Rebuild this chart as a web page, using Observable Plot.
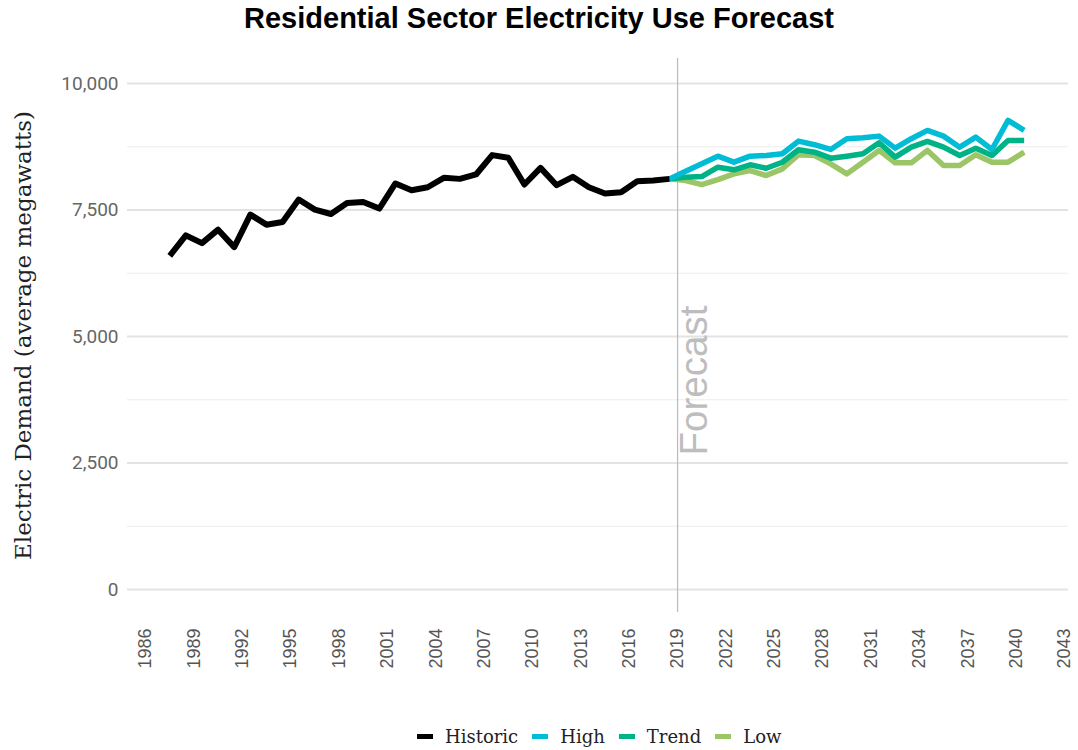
<!DOCTYPE html>
<html><head><meta charset="utf-8">
<script src="https://cdn.jsdelivr.net/npm/d3@7"></script>
<script src="https://cdn.jsdelivr.net/npm/@observablehq/plot@0.6"></script>
<style>
body{margin:0;background:#fff;width:1078px;height:750px;overflow:hidden;}
#title{font-family:"Liberation Sans",Arial,sans-serif;font-weight:bold;font-size:29px;text-align:center;height:40px;line-height:36px;color:#000;}
#chart svg{display:block;}
#legend{display:flex;justify-content:flex-start;align-items:center;font-family:"DejaVu Serif",serif;font-size:18px;color:#222;margin-top:25px;height:22px;padding-left:410px;}
#legend .item{display:flex;align-items:center;margin:0 7px;}
#legend .sw{width:16px;height:5px;margin-right:12px;}
</style></head>
<body>
<div id="title">Residential Sector Electricity Use Forecast</div>
<div id="chart"></div>
<div id="legend"></div>
<script>
// Data (annual values plotted at mid-year)
const histYears = [1987,1988,1989,1990,1991,1992,1993,1994,1995,1996,1997,1998,1999,2000,2001,2002,2003,2004,2005,2006,2007,2008,2009,2010,2011,2012,2013,2014,2015,2016,2017,2018];
const historic  = [6595,6998,6845,7111,6766,7409,7210,7262,7706,7508,7421,7639,7659,7528,8024,7891,7950,8135,8115,8202,8585,8532,8004,8333,7990,8155,7950,7825,7851,8069,8083,8115];
const fcYears = [2018,2019,2020,2021,2022,2023,2024,2025,2026,2027,2028,2029,2030,2031,2032,2033,2034,2035,2036,2037,2038,2039,2040];
const high  = [8115,8266,8413,8564,8445,8564,8577,8611,8861,8790,8696,8909,8929,8960,8722,8909,9073,8960,8742,8940,8696,9272,9073];
const trend = [8115,8147,8161,8345,8294,8393,8325,8444,8690,8643,8524,8564,8611,8829,8544,8742,8855,8742,8577,8722,8577,8875,8875];
const low   = [8115,8081,8002,8101,8214,8280,8180,8313,8591,8577,8413,8214,8445,8677,8432,8432,8677,8379,8379,8591,8445,8445,8643];
const xTicks = [1986,1989,1992,1995,1998,2001,2004,2007,2010,2013,2016,2019,2022,2025,2028,2031,2034,2037,2040,2043];
const yTicks = [0,2500,5000,7500,10000];
const yMinor = [1250,3750,6250,8750];
const forecastYear = [2019];
const forecastLabel = [{year:2019, value:2650, text:"Forecast"}];
const yTitle = ["Electric Demand (average megawatts)"];
const seriesNames = ["Historic","High","Trend","Low"];
const seriesColors = ["#000000","#00bcd4","#00b386","#9bc566"];

const color = Object.fromEntries(seriesNames.map((n,i)=>[n,seriesColors[i]]));
const mid = y => y + 0.5;
const hist = histYears.map((y,i)=>({x:mid(y), v:historic[i]}));
const mk = arr => fcYears.map((y,i)=>({x:mid(y), v:arr[i]}));

const chart = Plot.plot({
  width:1078, height:660,
  marginTop:18, marginBottom:88, marginLeft:127, marginRight:10,
  style:{background:"white", fontFamily:"Roboto"},
  x:{domain:[1984.88,2043.25]},
  y:{domain:[-455,10494]},
  marks:[
    Plot.ruleY(yMinor,{stroke:"#ececec",strokeWidth:1.2}),
    Plot.ruleY(yTicks,{stroke:"#e3e3e3",strokeWidth:1.8}),
    Plot.ruleX(forecastYear,{stroke:"#bbbbbb",strokeWidth:1.2}),
    Plot.axisY(yTicks,{tickSize:0,tickPadding:9,tickFormat:d3.format(","),label:null,fill:"#666",fontSize:19,fontFamily:"Roboto"}),
    Plot.axisX(xTicks,{tickSize:0,tickPadding:16,tickRotate:-90,tickFormat:d=>String(d),label:null,fill:"#555",fontSize:18,fontFamily:"Liberation Sans"}),
    Plot.text(forecastLabel,{x:"year",y:"value",text:"text",rotate:-90,textAnchor:"start",lineAnchor:"middle",dx:17,fill:"#bdbdbd",fontSize:38.5,fontFamily:"Liberation Sans"}),
    Plot.text(yTitle,{frameAnchor:"left",text:d=>d,rotate:-90,dx:-104,textAnchor:"middle",lineAnchor:"middle",fill:"#222",fontSize:23,fontFamily:"DejaVu Serif"}),
    Plot.line(mk(low),{x:"x",y:"v",stroke:color.Low,strokeWidth:5.5,strokeLinecap:"butt",strokeLinejoin:"round"}),
    Plot.line(mk(trend),{x:"x",y:"v",stroke:color.Trend,strokeWidth:5.5,strokeLinecap:"butt",strokeLinejoin:"round"}),
    Plot.line(mk(high),{x:"x",y:"v",stroke:color.High,strokeWidth:5.5,strokeLinecap:"butt",strokeLinejoin:"round"}),
    Plot.line(hist,{x:"x",y:"v",stroke:color.Historic,strokeWidth:6,strokeLinecap:"butt",strokeLinejoin:"round"})
  ]
});
document.getElementById("chart").appendChild(chart);

const lg = document.getElementById("legend");
seriesNames.forEach(n=>{
  const it = document.createElement("div"); it.className="item";
  const sw = document.createElement("span"); sw.className="sw"; sw.style.background=color[n];
  const t = document.createElement("span"); t.textContent=n;
  it.appendChild(sw); it.appendChild(t); lg.appendChild(it);
});
</script>
</body></html>
